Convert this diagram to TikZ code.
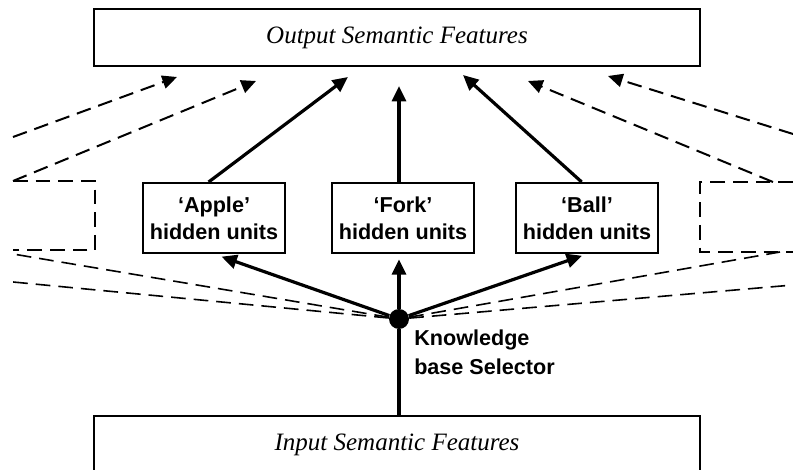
\documentclass[tikz,border=0pt]{standalone}
\usepackage{fontspec}
\setmainfont{Liberation Serif}
\setsansfont{Liberation Sans}
\usetikzlibrary{arrows.meta,positioning}

\begin{document}
\begin{tikzpicture}[x=0.75pt, y=-0.75pt,
  unitbox/.style={rectangle, draw, line width=1.5pt, minimum width=106.5pt, minimum height=52.5pt, align=center, inner sep=0pt,
    font=\sffamily\bfseries\fontsize{16.2}{20}\selectfont},
  featbox/.style={rectangle, draw, line width=1.5pt, minimum width=454.5pt, minimum height=42.75pt,
    font=\itshape\fontsize{18.75}{22}\selectfont},
  arr/.style={-{Triangle[length=11.5pt, width=10.5pt]}, line width=2.4pt},
  darr/.style={-{Triangle[length=11pt, width=10pt]}, line width=1.5pt, dash pattern=on 11pt off 6pt},
  dline/.style={line width=1.2pt, dash pattern=on 11pt off 6pt}
]
  \useasboundingbox (0,0) rectangle (793,470);

  % feature layers
  \node[featbox] (out) at (397,37.5) {Output Semantic Features};
  \node[featbox, anchor=north, inner ysep=0pt, text height=26pt, text depth=50pt] (in) at (397,415) {Input Semantic Features};

  % hidden units
  \node[unitbox] (apple) at (214,218) {‘Apple’\\hidden units};
  \node[unitbox] (fork) at (403,218) {‘Fork’\\hidden units};
  \node[unitbox] (ball) at (587,218) {‘Ball’\\hidden units};

  % selector
  \node[circle, fill, inner sep=0pt, minimum size=15pt] (sel) at (399,319) {};
  \node[anchor=west, align=left, inner sep=0pt, font=\sffamily\bfseries\fontsize{16.2}{21.5}\selectfont] (kbs) at (414,352) {Knowledge\\base Selector};

  % other knowledge bases (cut off)
  \coordinate (lghost) at (13,181);
  \coordinate (rghost) at (773,182);
  \draw[dline] (lghost) -- (95,181) -- (95,250) -- (13,250);
  \draw[dline] (793,182) -- (700,182) -- (700,252) -- (793,252);
  \coordinate (lfar) at (13,137);
  \coordinate (rfar) at (793,134);

  % arrow tips below the output layer
  \coordinate (lfar-up) at (177,77);
  \coordinate (lghost-up) at (256,81);
  \coordinate (apple-up) at (348,77);
  \coordinate (fork-up) at (399,86);
  \coordinate (ball-up) at (463,75);
  \coordinate (rghost-up) at (528,81);
  \coordinate (rfar-up) at (608,76);

  % ends of the selector lines
  \coordinate (lsel1) at (13,254);
  \coordinate (lsel2) at (13,282);
  \coordinate (rsel1) at (780,252);
  \coordinate (rsel2) at (793,285);

  \draw[dline] (sel) -- (lsel1);
  \draw[dline] (sel) -- (lsel2);
  \draw[dline] (sel) -- (rsel1);
  \draw[dline] (sel) -- (rsel2);

  \draw[line width=2.4pt] (in.north -| sel) -- (sel);
  \draw[arr, shorten >=6pt] (sel) -- (apple.south);
  \draw[arr, shorten >=4pt] (sel) -- (sel |- fork.south);
  \draw[arr, shorten >=4pt] (sel) -- (ball.south);

  \draw[arr] ([xshift=-4pt]apple.north) -- (apple-up);
  \draw[arr] (fork.north -| sel) -- (fork-up);
  \draw[arr] ([xshift=-4pt]ball.north) -- (ball-up);

  \draw[darr] (lfar) -- (lfar-up);
  \draw[darr] (lghost) -- (lghost-up);
  \draw[darr] (rghost) -- (rghost-up);
  \draw[darr] (rfar) -- (rfar-up);
\end{tikzpicture}
\end{document}
